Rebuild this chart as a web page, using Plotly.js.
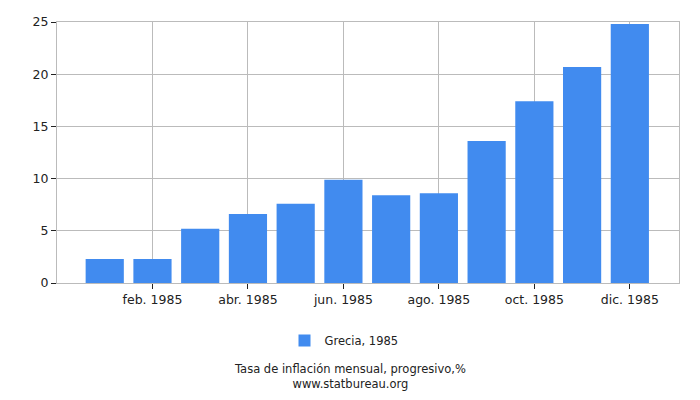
<!DOCTYPE html>
<html>
<head>
<meta charset="utf-8">
<script src="https://cdn.plot.ly/plotly-3.0.1.min.js"></script>
<style>
  html, body { margin: 0; padding: 0; background: #fff; }
  #chart { width: 700px; height: 400px; }
</style>
</head>
<body>
<div id="chart"></div>
<script>
// months of 1985 and the progressive monthly inflation (Greece)
const months = ['ene. 1985', 'feb. 1985', 'mar. 1985', 'abr. 1985', 'may. 1985', 'jun. 1985',
                'jul. 1985', 'ago. 1985', 'sep. 1985', 'oct. 1985', 'nov. 1985', 'dic. 1985'];
const inflation = [2.3, 2.3, 5.2, 6.6, 7.6, 9.9, 8.4, 8.6, 13.6, 17.4, 20.7, 24.8];
const shownTicks = ['feb. 1985', 'abr. 1985', 'jun. 1985', 'ago. 1985', 'oct. 1985', 'dic. 1985'];
const seriesName = 'Grecia, 1985';

const font = 'DejaVu Sans, Verdana, sans-serif';
// footer is centred on the page, not on the plot area
const pageCentre = (350 - 57) / 622;
// legend sits a little left of centre (its swatch is narrower than the original)
const legendCentre = (344 - 57) / 622;

const data = [{
    type: 'bar',
    x: months,
    y: inflation,
    name: seriesName,
    marker: { color: '#418BEF' },
    hoverinfo: 'x+y'
}];

const layout = {
    width: 700,
    height: 400,
    margin: { l: 57, r: 21, t: 22, b: 117 },
    paper_bgcolor: '#fff',
    plot_bgcolor: '#fff',
    font: { family: font, size: 12.5, color: '#222' },
    bargap: 0.2,
    showlegend: true,
    legend: {
        orientation: 'h',
        x: legendCentre, xanchor: 'center',
        y: -0.22, yanchor: 'middle',
        font: { family: font, size: 11.5, color: '#222' }
    },
    xaxis: {
        type: 'category',
        range: [-1.0, 12.03],
        tickvals: shownTicks,
        ticktext: shownTicks,
        ticks: 'outside',
        ticklen: 5,
        tickcolor: '#222',
        showgrid: true,
        gridcolor: '#bbb',
        showline: true,
        linecolor: '#bbb',
        mirror: true,
        zeroline: false,
        fixedrange: true
    },
    yaxis: {
        range: [0, 25],
        dtick: 5,
        ticks: 'outside',
        ticklen: 5,
        tickcolor: '#222',
        showgrid: true,
        gridcolor: '#bbb',
        showline: true,
        linecolor: '#bbb',
        mirror: true,
        zeroline: false,
        fixedrange: true
    },
    annotations: [
        {
            text: 'Tasa de inflación mensual, progresivo,%<br>www.statbureau.org',
            xref: 'paper', yref: 'paper',
            x: pageCentre, y: -0.36,
            xanchor: 'center', yanchor: 'middle',
            showarrow: false,
            font: { family: font, size: 11.5, color: '#222' }
        }
    ]
};

Plotly.newPlot('chart', data, layout, { displayModeBar: false, staticPlot: true });
</script>
</body>
</html>
